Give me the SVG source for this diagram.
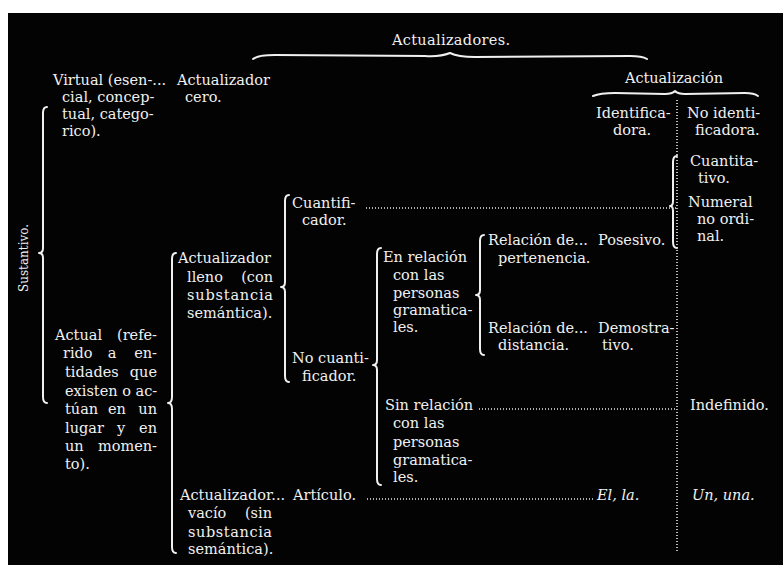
<svg xmlns="http://www.w3.org/2000/svg" width="783" height="565" viewBox="0 0 783 565">
<style>
text{font-family:"DejaVu Serif","Liberation Serif",serif;font-size:14.5px;fill:#f0f0f0}
.it{font-style:italic}
.e{text-anchor:end}
.m{text-anchor:middle}
.br{fill:none;stroke:#f0f0f0;stroke-width:2;stroke-linecap:round;stroke-linejoin:round}
.dot{fill:none;stroke:#e8e8e8;stroke-width:1.6;stroke-dasharray:1 2}
</style>
<rect x="0" y="0" width="783" height="565" fill="#fff"/>
<rect x="8" y="13" width="775" height="552" fill="#030303"/>
<g id="connectors">
<path class="br" d="M253,59 Q258,55 275,55 L425,56 Q440,57 450,53 Q458,57 475,57 L630,56 Q642,56 647,59"/>
<path class="br" d="M593,96 Q600,93 615,93 L665,94 Q672,94 675,91 Q678,94 685,94 L745,93 Q754,93 758,96"/>
<path class="br" d="M47,107 Q43,107 43,113 L43,248 Q43,253 39,253 Q43,253 43,258 L43,397 Q43,403 47,403"/>
<path class="br" d="M176,253 Q172,253 172,259 L172,397 Q172,403 168,403 Q172,403 172,409 L172,547 Q172,553 176,553"/>
<path class="br" d="M289,195 Q285,195 285,201 L285,282 Q285,287 281,287 Q285,287 285,292 L285,376 Q285,382 289,382"/>
<path class="br" d="M381,248 Q377,248 377,254 L377,360 Q377,365 373,365 Q377,365 377,370 L377,479 Q377,485 381,485"/>
<path class="br" d="M484,235 Q480,235 480,241 L480,290 Q480,295 476,295 Q480,295 480,300 L480,349 Q480,355 484,355"/>
<path class="br" d="M677,156 Q673,156 673,162 L673,201 Q673,206 670,206 Q673,206 673,211 L673,242 Q673,248 677,248"/>
<line class="dot" x1="677" y1="100" x2="677" y2="553"/>
<line class="dot" x1="366" y1="208" x2="676" y2="208"/>
<line class="dot" x1="479" y1="409" x2="676" y2="409"/>
<line class="dot" x1="367" y1="499" x2="593" y2="499"/>
</g>
<g id="actualizadores"><text x="392" y="45" textLength="118">Actualizadores.</text></g>
<g id="actualizacion"><text x="625" y="83" textLength="98">Actualización</text></g>
<g id="identificadora"><text x="596" y="118">Identifica-</text><text x="613" y="135">dora.</text></g>
<g id="no-identificadora"><text x="687" y="118">No identi-</text><text x="695" y="135">ficadora.</text></g>
<g id="cuantitativo"><text x="690" y="166">Cuantita-</text><text x="698" y="183">tivo.</text></g>
<g id="numeral"><text x="688" y="207">Numeral</text><text x="697" y="224">no ordi-</text><text x="697" y="241">nal.</text></g>
<g id="sustantivo"><text transform="translate(28,292) rotate(-90)" style="font-size:12px">Sustantivo.</text></g>
<g id="virtual"><text x="53" y="85">Virtual (esen-...</text><text x="62" y="102">cial, concep-</text><text x="62" y="119">tual, catego-</text><text x="62" y="136">rico).</text></g>
<g id="actualizador-cero"><text x="177" y="85">Actualizador</text><text x="185" y="102">cero.</text></g>
<g id="actual">
<text x="55" y="340">Actual</text><text class="e" x="157" y="340">(refe-</text>
<text x="63" y="358">rido</text><text class="m" x="112" y="358">a</text><text class="e" x="157" y="358">en-</text>
<text x="65" y="377">tidades</text><text class="e" x="157" y="377">que</text>
<text x="65" y="396">existen o ac-</text>
<text x="65" y="414">túan</text><text class="m" x="117" y="414">en</text><text class="e" x="157" y="414">un</text>
<text x="65" y="433">lugar</text><text class="m" x="121" y="433">y</text><text class="e" x="157" y="433">en</text>
<text x="65" y="451">un</text><text class="e" x="157" y="451">momen-</text>
<text x="65" y="469">to).</text>
</g>
<g id="actualizador-lleno">
<text x="178" y="263">Actualizador</text>
<text x="187" y="282">lleno</text><text class="e" x="273" y="282">(con</text>
<text x="187" y="300" textLength="86">substancia</text>
<text x="187" y="318">semántica).</text>
</g>
<g id="cuantificador"><text x="292" y="208">Cuantifi-</text><text x="302" y="225">cador.</text></g>
<g id="no-cuantificador"><text x="292" y="363">No cuanti-</text><text x="302" y="381">ficador.</text></g>
<g id="en-relacion">
<text x="383" y="262">En relación</text><text x="393" y="280">con las</text><text x="393" y="298">personas</text><text x="393" y="315">gramatica-</text><text x="393" y="332">les.</text>
</g>
<g id="pertenencia"><text x="488" y="245">Relación de...</text><text x="498" y="263">pertenencia.</text></g>
<g id="posesivo"><text x="598" y="245">Posesivo.</text></g>
<g id="distancia"><text x="488" y="333">Relación de...</text><text x="498" y="350">distancia.</text></g>
<g id="demostrativo"><text x="598" y="333">Demostra-</text><text x="602" y="350">tivo.</text></g>
<g id="sin-relacion">
<text x="385" y="410">Sin relación</text><text x="393" y="428">con las</text><text x="393" y="447">personas</text><text x="393" y="465">gramatica-</text><text x="393" y="482">les.</text>
</g>
<g id="indefinido"><text x="690" y="410">Indefinido.</text></g>
<g id="actualizador-vacio">
<text x="180" y="500">Actualizador...</text>
<text x="188" y="518">vacío</text><text class="e" x="272" y="518">(sin</text>
<text x="188" y="537" textLength="84">substancia</text>
<text x="188" y="554">semántica).</text>
</g>
<g id="articulo"><text x="293" y="500">Artículo.</text></g>
<g id="el-la"><text class="it" x="597" y="500">El, la.</text></g>
<g id="un-una"><text class="it" x="692" y="500">Un, una.</text></g>
</svg>
